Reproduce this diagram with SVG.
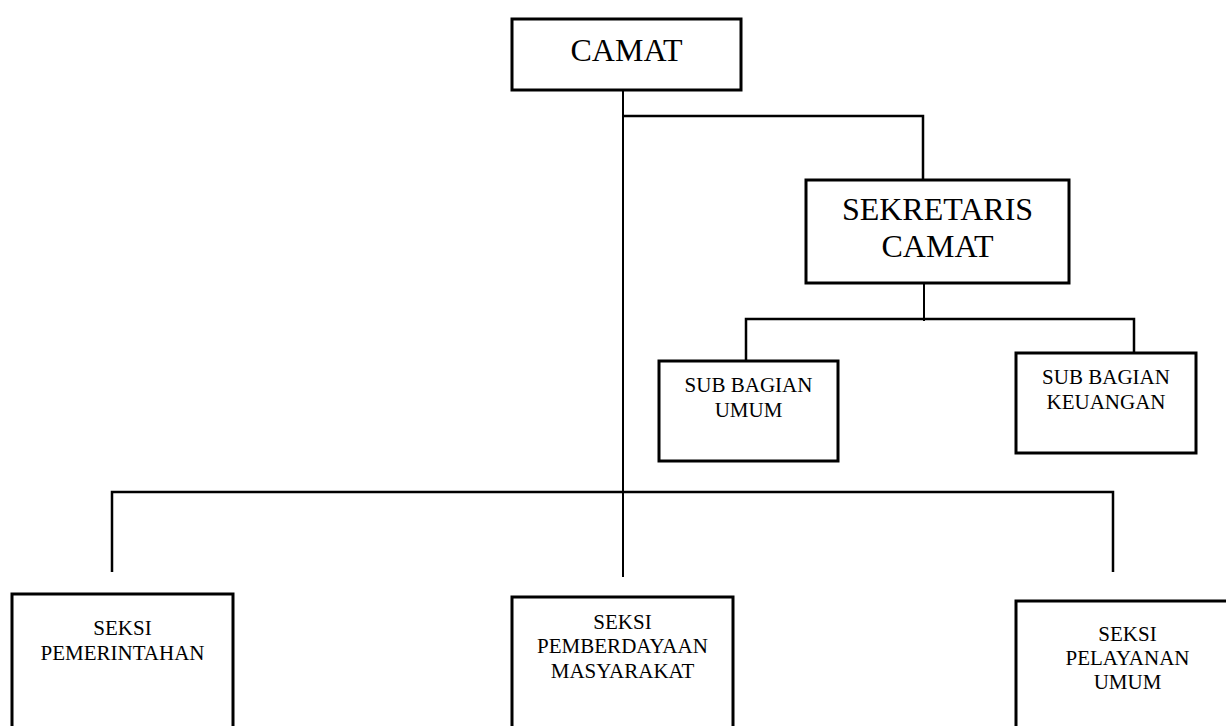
<svg xmlns="http://www.w3.org/2000/svg" width="1226" height="726" viewBox="0 0 1226 726">
<style>
.box{fill:#fff;stroke:#000;stroke-width:3}
.ln{stroke:#000;stroke-width:2.5;fill:none}
.thin{stroke:#000;stroke-width:2;fill:none}
text{font-family:"Liberation Serif","Times New Roman",serif;fill:#000;text-anchor:middle}
.big{font-size:32px}
.sm{font-size:21px}
</style>
<rect width="1226" height="726" fill="#fff"/>
<g id="connectors">
<line class="thin" x1="623" y1="90" x2="623" y2="577"/>
<polyline class="ln" points="623,116 923,116 923,180"/>
<line class="thin" x1="924" y1="283" x2="924" y2="321"/>
<polyline class="ln" points="746,361 746,319 1134,319 1134,353"/>
<polyline class="ln" points="112,572 112,492 1113,492 1113,572"/>
</g>
<g id="camat">
<rect class="box" x="512" y="19" width="229" height="71"/>
<text class="big" x="626.5" y="61">CAMAT</text>
</g>
<g id="sekretaris">
<rect class="box" x="806" y="180" width="263" height="103"/>
<text class="big" x="937.5" y="220">SEKRETARIS</text>
<text class="big" x="937.5" y="257">CAMAT</text>
</g>
<g id="subbagian-umum">
<rect class="box" x="659" y="361" width="179" height="100"/>
<text class="sm" x="748.5" y="392">SUB BAGIAN</text>
<text class="sm" x="748.5" y="417">UMUM</text>
</g>
<g id="subbagian-keuangan">
<rect class="box" x="1016" y="353" width="180" height="100"/>
<text class="sm" x="1106" y="384">SUB BAGIAN</text>
<text class="sm" x="1106" y="409">KEUANGAN</text>
</g>
<g id="seksi-pemerintahan">
<rect class="box" x="12" y="594" width="221" height="150"/>
<text class="sm" x="122.5" y="635">SEKSI</text>
<text class="sm" x="122.5" y="660">PEMERINTAHAN</text>
</g>
<g id="seksi-pemberdayaan">
<rect class="box" x="512" y="597" width="221" height="150"/>
<text class="sm" x="622.5" y="629">SEKSI</text>
<text class="sm" x="622.5" y="653">PEMBERDAYAAN</text>
<text class="sm" x="622.5" y="678">MASYARAKAT</text>
</g>
<g id="seksi-pelayanan">
<rect class="box" x="1016" y="601" width="223" height="150"/>
<text class="sm" x="1127.5" y="641">SEKSI</text>
<text class="sm" x="1127.5" y="665">PELAYANAN</text>
<text class="sm" x="1127.5" y="689">UMUM</text>
</g>
</svg>
